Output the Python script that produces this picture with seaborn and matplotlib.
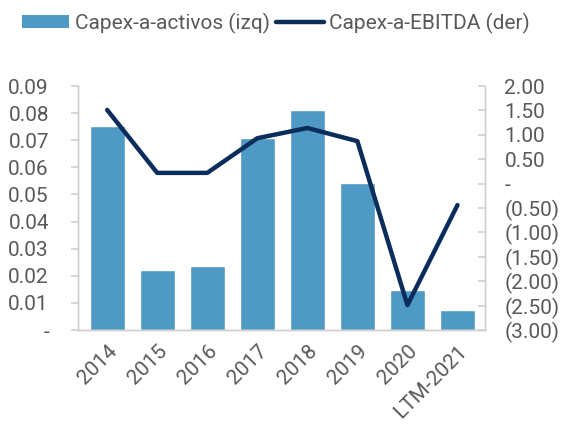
import matplotlib

matplotlib.use("Agg")

import matplotlib.pyplot as plt
import numpy as np
import pandas as pd
import seaborn as sns
from matplotlib.lines import Line2D
from matplotlib.patches import Patch
from matplotlib.ticker import FuncFormatter, MultipleLocator

years = ["2014", "2015", "2016", "2017", "2018", "2019", "2020", "LTM-2021"]
capex_assets = [0.0752, 0.0222, 0.0236, 0.0710, 0.0810, 0.0542, 0.0146, 0.0075]
capex_ebitda = [1.51, 0.22, 0.22, 0.93, 1.14, 0.87, -2.49, -0.44]

BAR_COLOR = "#4F9AC4"
LINE_COLOR = "#0B2D5B"
TEXT_COLOR = "#595959"
SPINE_COLOR = "#D0D0D0"
FS = 15

sns.set_theme(style="white")
plt.rcParams["font.family"] = ["Roboto", "DejaVu Sans"]
plt.rcParams["font.size"] = FS

df = pd.DataFrame({"year": years, "assets": capex_assets, "ebitda": capex_ebitda})

fig = plt.figure(figsize=(5.62, 4.25), dpi=100)
ax = fig.add_axes([0.139, 0.2235, 0.724, 0.5741])
sns.barplot(data=df, x="year", y="assets", color=BAR_COLOR, saturation=1,
            width=0.7, ax=ax)
ax.set_ylim(0, 0.09)
ax.set_xlim(-0.58, 7.55)
ax.yaxis.set_major_locator(MultipleLocator(0.01))
ax.yaxis.set_major_formatter(FuncFormatter(lambda v, _: "-" if abs(v) < 1e-9 else f"{v:.2f}"))
ax.set_xlabel("")
ax.set_ylabel("")

ax2 = ax.twinx()
sns.lineplot(x=np.arange(len(years)), y=df["ebitda"], color=LINE_COLOR,
             linewidth=3.2, ax=ax2, solid_capstyle="round")
ax2.set_ylim(-3.0, 2.0)
ax2.yaxis.set_major_locator(MultipleLocator(0.5))


def paren_fmt(v, _):
    if abs(v) < 1e-9:
        return "-"
    if v < 0:
        return f"({abs(v):.2f})"
    return f"{v:.2f}"


ax2.yaxis.set_major_formatter(FuncFormatter(paren_fmt))
ax2.set_ylabel("")

for a in (ax, ax2):
    a.spines["top"].set_visible(False)
    for side in ("left", "right", "bottom"):
        a.spines[side].set_color(SPINE_COLOR)
        a.spines[side].set_linewidth(1)
    a.tick_params(colors=TEXT_COLOR, labelsize=FS, length=5, color=SPINE_COLOR)

ax.tick_params(axis="y", left=True, pad=16)
ax.tick_params(axis="x", bottom=False, pad=3)
ax2.tick_params(axis="y", right=True, direction="in", pad=14)
plt.setp(ax.get_xticklabels(), rotation=45, ha="right", rotation_mode="anchor")

handles = [
    Patch(facecolor=BAR_COLOR, edgecolor="none"),
    Line2D([0], [0], color=LINE_COLOR, linewidth=3.2, solid_capstyle="round"),
]
fig.legend(handles, ["Capex-a-activos (izq)", "Capex-a-EBITDA (der)"],
           loc="upper left", bbox_to_anchor=(0.005, 1.014), ncol=2, frameon=False,
           fontsize=FS, labelcolor=TEXT_COLOR, handlelength=2.3, handletextpad=0.25,
           columnspacing=0.3, handleheight=0.6)

fig.savefig("out.png", dpi=100)
